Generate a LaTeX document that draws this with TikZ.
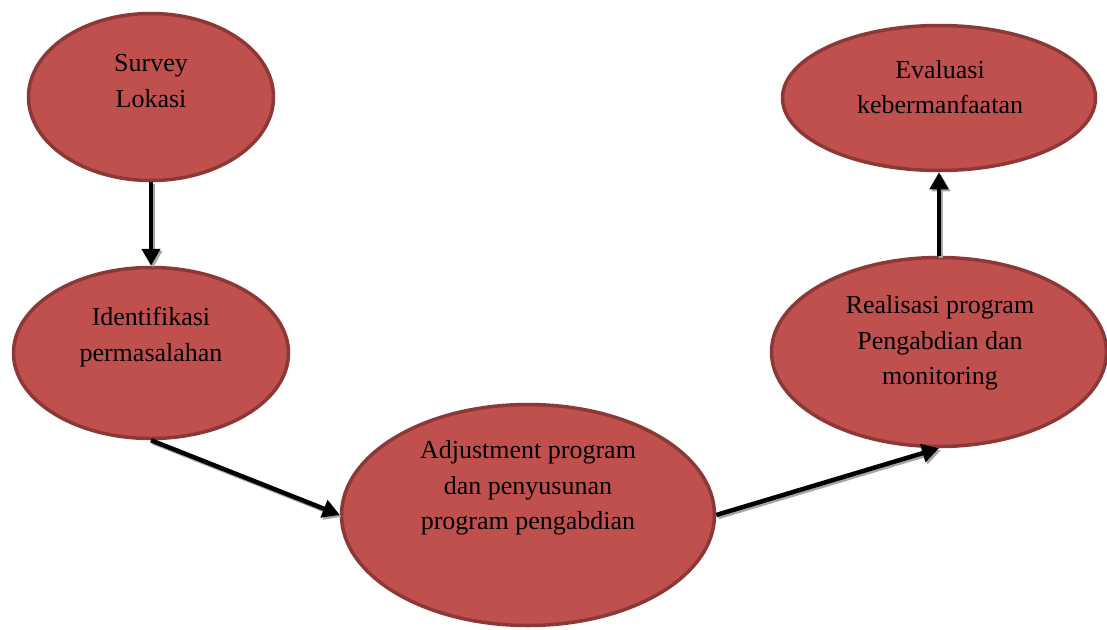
\documentclass[tikz,border=0pt]{standalone}
\usepackage{fontspec}
\setmainfont{Liberation Serif}
\usetikzlibrary{shapes.geometric,arrows.meta}
\definecolor{blobfill}{HTML}{C0504D}
\definecolor{blobedge}{HTML}{8C3836}
\definecolor{shadowgray}{HTML}{A6A6A6}
\begin{document}
\begin{tikzpicture}[x=1pt,y=-1pt,
  blob/.style={ellipse, draw=blobedge, fill=blobfill, line width=3.5pt, inner sep=0pt},
  lbl/.style={font=\fontsize{26}{35.5}\selectfont, align=center, text=black, inner sep=0pt},
  conn/.style={line width=4.5pt, draw=black, -{Triangle[length=17pt,width=18pt]}},
  shade/.style={line width=4.5pt, draw=shadowgray, -{Triangle[length=17pt,width=18pt]}}]
\useasboundingbox (0,0) rectangle (1107,629);

\node[blob, minimum width=245pt, minimum height=167pt] (survey) at (151,97) {};
\node[blob, minimum width=275pt, minimum height=171pt] (ident) at (151,353) {};
\node[blob, minimum width=373pt, minimum height=221pt] (adj) at (528,515) {};
\node[blob, minimum width=335pt, minimum height=189pt] (real) at (939,352) {};
\node[blob, minimum width=313pt, minimum height=145pt] (eval) at (939,98) {};

\node[lbl] (tsurvey) at (151,81) {Survey\\Lokasi};
\node[lbl] (tident) at (151,337) {Identifikasi\\permasalahan};
\node[lbl] (tadj) at (528,488) {Adjustment program\\dan penyusunan\\program pengabdian};
\node[lbl] (treal) at (940,343) {Realisasi program\\Pengabdian dan\\monitoring};
\node[lbl] (teval) at (940,87) {Evaluasi\\kebermanfaatan};

\draw[shade] ([shift={(2,2)}]survey.south) -- ([shift={(2,2)}]ident.north);
\draw[shade] ([shift={(2,2)}]ident.south) -- ([shift={(2,2)}]adj.west);
\draw[shade] ([shift={(2,2)}]adj.east) -- ([shift={(2,2)}]real.south);
\draw[shade] ([shift={(2,2)}]real.north) -- ([shift={(2,2)}]eval.south);

\draw[conn] (survey.south) -- (ident.north);
\draw[conn] (ident.south) -- (adj.west);
\draw[conn] (adj.east) -- (real.south);
\draw[conn] (real.north) -- (eval.south);
\end{tikzpicture}
\end{document}
